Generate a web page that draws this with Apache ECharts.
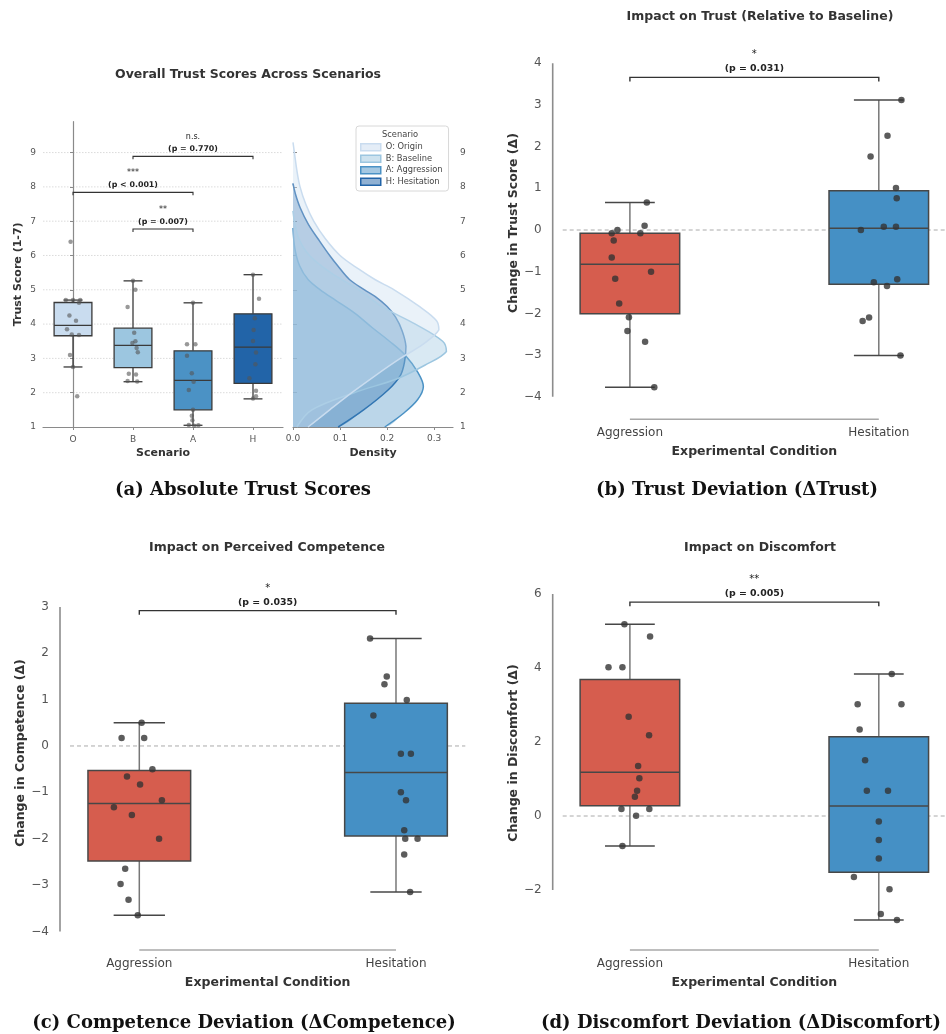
<!DOCTYPE html>
<html><head><meta charset="utf-8">
<script src="https://cdn.jsdelivr.net/npm/echarts@6/dist/echarts.min.js"></script>
<style>html,body{margin:0;padding:0;background:#fff}#c{width:946px;height:1034px}</style>
</head><body><div id="c"></div>
<script>
// ---------------- DATA ----------------
const scenarioLabels = ['O', 'B', 'A', 'H'];
const scenarioNames = ['O: Origin', 'B: Baseline', 'A: Aggression', 'H: Hesitation'];
const trustTicks = [1, 2, 3, 4, 5, 6, 7, 8, 9];
const trustGridTicks = [2, 3, 4, 5, 6, 7, 8, 9];
const densityTicks = [0.0, 0.1, 0.2, 0.3];
// box stats: [lower whisker, Q1, median, Q3, upper whisker]
const trustBoxO = [2.75, 3.66, 3.96, 4.63, 4.70];
const trustBoxB = [2.32, 2.73, 3.38, 3.88, 5.26];
const trustBoxA = [1.05, 1.50, 2.36, 3.22, 4.62];
const trustBoxH = [1.82, 2.27, 3.33, 4.30, 5.44];
const trustPtsO = [6.4, 4.7, 4.7, 4.7, 4.62, 4.25, 4.1, 3.85, 3.7, 3.68, 3.1, 2.75, 1.9];
const trustJitO = [-0.04, -0.12, 0.0, 0.12, 0.1, -0.06, 0.05, -0.1, -0.02, 0.1, -0.05, 0.0, 0.07];
const trustPtsB = [5.26, 5.0, 4.5, 3.75, 3.5, 3.45, 3.3, 3.18, 2.55, 2.53, 2.34, 2.33];
const trustJitB = [0.0, 0.04, -0.09, 0.02, 0.04, -0.01, 0.06, 0.08, -0.07, 0.05, -0.09, 0.07];
const trustPtsA = [4.62, 3.41, 3.41, 3.08, 2.57, 2.32, 2.08, 1.5, 1.33, 1.2, 1.06, 1.05, 1.04];
const trustJitA = [0.0, -0.1, 0.04, -0.1, -0.02, 0.01, -0.07, 0.0, -0.02, -0.01, -0.07, 0.09, 0.02];
const trustPtsH = [5.44, 4.74, 4.17, 3.83, 3.51, 3.17, 2.83, 2.42, 2.06, 1.9, 1.83];
const trustJitH = [0.0, 0.1, 0.03, 0.01, 0.0, 0.05, 0.04, -0.06, 0.05, 0.05, 0.0];
// density curves: [score, density]
const kdeO = [[1.0,0.032],[1.5,0.078],[2.0,0.125],[2.5,0.175],[3.0,0.228],[3.4,0.275],[3.83,0.31],[4.1,0.305],[4.5,0.27],[5.0,0.215],[5.3,0.174],[5.6,0.14],[6.0,0.1],[6.5,0.068],[7.0,0.044],[7.5,0.027],[8.0,0.015],[8.5,0.008],[9.0,0.003],[9.3,0.0]];
const kdeB = [[1.0,0.008],[1.5,0.04],[2.0,0.13],[2.4,0.22],[2.8,0.28],[3.2,0.326],[3.5,0.318],[4.0,0.26],[4.5,0.19],[5.0,0.14],[5.5,0.08],[6.0,0.035],[6.5,0.012],[7.0,0.003],[7.3,0.0]];
const kdeA = [[1.0,0.195],[1.4,0.235],[1.8,0.265],[2.18,0.277],[2.6,0.265],[3.1,0.238],[3.5,0.205],[3.9,0.168],[4.32,0.131],[4.7,0.09],[5.0,0.058],[5.3,0.032],[5.7,0.014],[6.2,0.004],[6.8,0.0]];
const kdeH = [[1.0,0.096],[1.5,0.15],[2.08,0.202],[2.5,0.228],[2.9,0.237],[3.35,0.24],[3.8,0.232],[4.2,0.218],[4.51,0.2],[4.8,0.175],[5.0,0.152],[5.3,0.12],[5.7,0.095],[6.0,0.078],[6.45,0.055],[6.9,0.033],[7.4,0.015],[7.8,0.005],[8.1,0.0]];
const sigPairsA = [[1, 3], [0, 2], [1, 2]];
const sigHeightsA = [8.89, 7.84, 6.77];
const sigStarsA = ['n.s.', '***', '**'];
const sigPA = ['(p = 0.770)', '(p < 0.001)', '(p = 0.007)'];

const conditions = ['Aggression', 'Hesitation'];
const trustDevTicks = [-4, -3, -2, -1, 0, 1, 2, 3, 4];
const trustDevBoxAgg = [-3.77, -2.01, -0.82, -0.08, 0.66];
const trustDevBoxHes = [-3.01, -1.30, 0.04, 0.94, 3.12];
const trustDevAgg = [0.66, 0.1, 0.0, -0.08, -0.08, -0.25, -0.66, -1.0, -1.17, -1.76, -2.09, -2.42, -2.68, -3.77];
const trustDevJitAgg = [0.068, 0.059, -0.05, -0.073, 0.042, -0.065, -0.073, 0.085, -0.059, -0.043, -0.004, -0.01, 0.061, 0.098];
const trustDevHes = [3.12, 2.26, 1.76, 1.01, 0.76, 0.0, 0.08, 0.08, -1.18, -1.25, -1.34, -2.10, -2.18, -3.01];
const trustDevJitHes = [0.091, 0.035, -0.033, 0.069, 0.072, -0.072, 0.02, 0.069, 0.074, -0.02, 0.033, -0.039, -0.065, 0.087];
const trustDevSig = [3.66, '*', '(p = 0.031)'];

const compDevTicks = [-4, -3, -2, -1, 0, 1, 2, 3];
const compDevBoxAgg = [-3.65, -2.48, -1.24, -0.53, 0.5];
const compDevBoxHes = [-3.15, -1.94, -0.57, 0.92, 2.32];
const compDevAgg = [0.5, 0.17, 0.17, -0.5, -0.66, -0.83, -1.17, -1.32, -1.49, -2.0, -2.65, -2.98, -3.32, -3.65];
const compDevJitAgg = [0.009, -0.069, 0.019, 0.051, -0.048, 0.003, 0.088, -0.099, -0.029, 0.077, -0.055, -0.073, -0.042, -0.006];
const compDevHes = [2.32, 1.50, 1.33, 0.99, 0.66, -0.17, -0.17, -1.0, -1.17, -1.82, -2.0, -2.0, -2.34, -3.15];
const compDevJitHes = [-0.101, -0.036, -0.045, 0.042, -0.088, 0.019, 0.058, 0.019, 0.039, 0.032, 0.036, 0.084, 0.032, 0.055];
const compDevSig = [2.92, '*', '(p = 0.035)'];

const discDevTicks = [-2, 0, 2, 4, 6];
const discDevBoxAgg = [-0.81, 0.28, 1.18, 3.69, 5.18];
const discDevBoxHes = [-2.81, -1.52, 0.27, 2.14, 3.84];
const discDevAgg = [5.18, 4.85, 4.02, 4.02, 2.68, 2.18, 1.35, 1.02, 0.68, 0.52, 0.19, 0.19, 0.01, -0.81];
const discDevJitAgg = [-0.022, 0.081, -0.086, -0.030, -0.005, 0.077, 0.033, 0.038, 0.029, 0.020, -0.034, 0.078, 0.025, -0.030];
const discDevHes = [3.84, 3.02, 3.02, 2.34, 1.51, 0.68, 0.68, -0.15, -0.65, -1.15, -1.65, -1.98, -2.65, -2.81];
const discDevJitHes = [0.052, -0.085, 0.091, -0.077, -0.055, -0.048, 0.037, 0.0, 0.0, 0.0, -0.1, 0.043, 0.008, 0.073];
const discDevSig = [5.78, '**', '(p = 0.005)'];

// ---------------- STYLE ----------------
const FONT = 'DejaVu Sans';
const SERIF = 'DejaVu Serif';
const blues = ['#c9dcef', '#9cc6e0', '#4b92c5', '#2264a8'];
const condColors = ['#d65d4e', '#4590c5'];

function rgba(hex, a) {
  const n = parseInt(hex.slice(1), 16);
  return 'rgba(' + (n >> 16) + ',' + ((n >> 8) & 255) + ',' + (n & 255) + ',' + a + ')';
}
function minus(v) { return v < 0 ? '\u2212' + Math.abs(v) : String(v); }

function boxRenderer(widthUnits, fills, edge, whisk, lw) {
  return function (params, api) {
    const x = api.value(0);
    const lo = api.coord([x, api.value(1)]), q1 = api.coord([x, api.value(2)]),
      md = api.coord([x, api.value(3)]), q3 = api.coord([x, api.value(4)]), hi = api.coord([x, api.value(5)]);
    const w = api.size([widthUnits, 0])[0];
    const cx = md[0], cw = w / 4;
    const ws = { stroke: whisk, lineWidth: lw };
    const es = { stroke: edge, lineWidth: lw };
    return { type: 'group', children: [
      { type: 'line', shape: { x1: cx, y1: q1[1], x2: cx, y2: lo[1] }, style: ws },
      { type: 'line', shape: { x1: cx, y1: q3[1], x2: cx, y2: hi[1] }, style: ws },
      { type: 'line', shape: { x1: cx - cw, y1: lo[1], x2: cx + cw, y2: lo[1] }, style: es },
      { type: 'line', shape: { x1: cx - cw, y1: hi[1], x2: cx + cw, y2: hi[1] }, style: es },
      { type: 'rect', shape: { x: cx - w / 2, y: q3[1], width: w, height: q1[1] - q3[1] }, style: { fill: fills[params.dataIndex], stroke: edge, lineWidth: lw } },
      { type: 'line', shape: { x1: cx - w / 2, y1: md[1], x2: cx + w / 2, y2: md[1] }, style: es }
    ] };
  };
}
function bracketRenderer(stars, ps, o) {
  return function (params, api) {
    const i = params.dataIndex;
    const a = api.coord([api.value(0), api.value(2)]);
    const b = api.coord([api.value(1), api.value(2)]);
    const cx = (a[0] + b[0]) / 2;
    return { type: 'group', children: [
      { type: 'polyline', shape: { points: [[a[0], a[1] + o.tick], [a[0], a[1]], [b[0], b[1]], [b[0], b[1] + o.tick]] }, style: { stroke: '#333', lineWidth: o.lw, fill: null } },
      { type: 'text', x: cx, y: a[1] + o.starDy, style: { text: stars[i], align: 'center', verticalAlign: 'middle', fontSize: o.starFs, fontFamily: FONT, fill: '#222' } },
      { type: 'text', x: cx, y: a[1] + o.pDy, style: { text: ps[i], align: 'center', verticalAlign: 'middle', fontSize: o.pFs, fontWeight: 'bold', fontFamily: FONT, fill: '#222' } }
    ] };
  };
}
function hlineRenderer(stroke, lw, dash) {
  return function (params, api) {
    const cs = params.coordSys;
    const y = api.coord([api.value(0), api.value(1)])[1];
    return { type: 'line', shape: { x1: cs.x, y1: y, x2: cs.x + cs.width, y2: y }, style: { stroke: stroke, lineWidth: lw, lineDash: dash } };
  };
}
function spineRenderer(ticks) {
  return function (params, api) {
    const cs = params.coordSys;
    const top = api.coord([0, ticks[ticks.length - 1]])[1];
    const bot = api.coord([0, ticks[0]])[1];
    const x0 = api.coord([0, 0])[0], x1 = api.coord([1, 0])[0];
    const xs = cs.x - 10, ys = cs.y + cs.height + 10;
    return { type: 'group', children: [
      { type: 'line', shape: { x1: xs, y1: top, x2: xs, y2: bot }, style: { stroke: '#8c8c8c', lineWidth: 1.6 } },
      { type: 'line', shape: { x1: x0, y1: ys, x2: x1, y2: ys }, style: { stroke: '#a8a8a8', lineWidth: 1.6 } }
    ] };
  };
}
function densityRenderer(curve, color, alpha) {
  return function (params, api) {
    if (params.dataIndex !== 0) return null;
    const pts = curve.map(p => api.coord([p[1], p[0]]));
    const b0 = api.coord([0, curve[0][0]]);
    const b1 = api.coord([0, curve[curve.length - 1][0]]);
    const poly = [b0].concat(pts).concat([b1]);
    let minX = Infinity, minY = Infinity, maxX = -Infinity, maxY = -Infinity;
    poly.forEach(p => { minX = Math.min(minX, p[0]); maxX = Math.max(maxX, p[0]); minY = Math.min(minY, p[1]); maxY = Math.max(maxY, p[1]); });
    const cons = [[minX, minY], [maxX, maxY]];
    return { type: 'group', children: [
      { type: 'polygon', shape: { points: poly, smooth: 0.35, smoothConstraint: cons }, style: { fill: rgba(color, alpha), stroke: null } },
      { type: 'polyline', shape: { points: pts, smooth: 0.35, smoothConstraint: cons }, style: { fill: null, stroke: color, lineWidth: 1.5 } }
    ] };
  };
}

// ---------------- OPTION ----------------
const devPanels = [
  { grid: 2, x: 3, y: 4 - 2, box: [trustDevBoxAgg, trustDevBoxHes], pts: [[trustDevAgg, trustDevJitAgg], [trustDevHes, trustDevJitHes]], ticks: trustDevTicks, sig: trustDevSig, name: 'Change in Trust Score (\u0394)', yMin: -4.30, yMax: 4.636 },
  { grid: 3, x: 4, y: 3, box: [compDevBoxAgg, compDevBoxHes], pts: [[compDevAgg, compDevJitAgg], [compDevHes, compDevJitHes]], ticks: compDevTicks, sig: compDevSig, name: 'Change in Competence (\u0394)', yMin: -4.186, yMax: 3.883 },
  { grid: 4, x: 5, y: 4, box: [discDevBoxAgg, discDevBoxHes], pts: [[discDevAgg, discDevJitAgg], [discDevHes, discDevJitHes]], ticks: discDevTicks, sig: discDevSig, name: 'Change in Discomfort (\u0394)', yMin: -3.351, yMax: 6.757 }
];

const grids = [
  { left: 43, top: 121.7, width: 240, height: 305.3 },
  { left: 293, top: 121.7, width: 160, height: 305.3 },
  { left: 562.7, top: 36.7, width: 393.6, height: 372.6 },
  { left: 70, top: 566, width: 395.3, height: 374 },
  { left: 562.7, top: 566, width: 393.6, height: 374 }
];

const smallLabel = { fontSize: 9, color: '#555', fontFamily: FONT };
const xAxes = [
  { type: 'category', gridIndex: 0, data: scenarioLabels, boundaryGap: true,
    axisLine: { lineStyle: { color: '#8a8a8a', width: 1.2 } },
    axisTick: { show: true, alignWithLabel: true, length: 3, lineStyle: { color: '#8a8a8a' } },
    axisLabel: Object.assign({ margin: 8 }, smallLabel),
    name: 'Scenario', nameLocation: 'middle', nameGap: 21,
    nameTextStyle: { fontSize: 11, fontWeight: 'bold', color: '#333', fontFamily: FONT } },
  { type: 'value', gridIndex: 0, min: -0.5, max: 3.5, show: false },
  { type: 'value', gridIndex: 1, min: 0, max: 0.34, splitLine: { show: false },
    axisLine: { show: true, lineStyle: { color: '#8a8a8a', width: 1.2 } },
    axisTick: { show: true, length: 3, customValues: densityTicks, lineStyle: { color: '#8a8a8a' } },
    axisLabel: Object.assign({ margin: 7, customValues: densityTicks, formatter: v => v.toFixed(1) }, smallLabel),
    name: 'Density', nameLocation: 'middle', nameGap: 21,
    nameTextStyle: { fontSize: 11, fontWeight: 'bold', color: '#333', fontFamily: FONT } }
];
const yAxes = [
  { type: 'value', gridIndex: 0, min: 1, max: 9.9, splitLine: { show: false },
    axisLine: { show: true, lineStyle: { color: '#8a8a8a', width: 1.2 } },
    axisTick: { show: true, length: 3, customValues: trustTicks, lineStyle: { color: '#8a8a8a' } },
    axisLabel: Object.assign({ margin: 7, customValues: trustTicks }, smallLabel),
    name: 'Trust Score (1-7)', nameLocation: 'middle', nameGap: 19,
    nameTextStyle: { fontSize: 11, fontWeight: 'bold', color: '#333', fontFamily: FONT } },
  { type: 'value', gridIndex: 1, position: 'right', min: 1, max: 9.9, splitLine: { show: false },
    axisLine: { show: false },
    axisTick: { show: true, length: 4, customValues: trustTicks, lineStyle: { color: '#8a8a8a' } },
    axisLabel: Object.assign({ margin: 7, customValues: trustTicks }, smallLabel) }
];
devPanels.forEach(p => {
  xAxes.push({ type: 'value', gridIndex: p.grid, min: -0.27, max: 1.27, offset: 10, splitLine: { show: false },
    axisLine: { show: false }, axisTick: { show: false },
    axisLabel: { customValues: [0, 1], formatter: v => conditions[Math.round(v)], fontSize: 12, color: '#444', margin: 8, fontFamily: FONT },
    name: 'Experimental Condition', nameLocation: 'middle', nameGap: 26,
    nameTextStyle: { fontSize: 12.5, fontWeight: 'bold', color: '#333', fontFamily: FONT } });
  yAxes.push({ type: 'value', gridIndex: p.grid, min: p.yMin, max: p.yMax, offset: 10, splitLine: { show: false },
    axisLine: { show: false }, axisTick: { show: false },
    axisLabel: { customValues: p.ticks, formatter: minus, fontSize: 12, color: '#555', margin: 11, fontFamily: FONT },
    name: p.name, nameLocation: 'middle', nameGap: 32,
    nameTextStyle: { fontSize: 12.5, fontWeight: 'bold', color: '#333', fontFamily: FONT } });
});

const series = [];
// panel (a) gridlines
series.push({ type: 'custom', xAxisIndex: 1, yAxisIndex: 0, z: 0, silent: true,
  data: trustGridTicks.map(v => [0, v]), encode: { x: 0, y: 1 },
  renderItem: hlineRenderer('#d2d2d2', 0.8, [1.5, 1.5]) });
// panel (a) boxes
series.push({ type: 'custom', xAxisIndex: 1, yAxisIndex: 0, z: 2, silent: true,
  data: [trustBoxO, trustBoxB, trustBoxA, trustBoxH].map((s, i) => [i].concat(s)),
  encode: { x: 0, y: [1, 2, 3, 4, 5] },
  renderItem: boxRenderer(0.63, blues, '#3a3a3a', '#3a3a3a', 1.3) });
// panel (a) points
const aPts = [];
[[trustPtsO, trustJitO], [trustPtsB, trustJitB], [trustPtsA, trustJitA], [trustPtsH, trustJitH]].forEach((pair, i) => {
  pair[0].forEach((v, k) => aPts.push([i + pair[1][k], v]));
});
series.push({ type: 'scatter', xAxisIndex: 1, yAxisIndex: 0, z: 3, silent: true, data: aPts,
  symbolSize: 4.5, itemStyle: { color: '#555', opacity: 0.6 } });
// panel (a) brackets
series.push({ type: 'custom', xAxisIndex: 1, yAxisIndex: 0, z: 4, silent: true, clip: false,
  data: sigPairsA.map((p, i) => [p[0], p[1], sigHeightsA[i]]), encode: { x: [0, 1], y: 2 },
  renderItem: bracketRenderer(sigStarsA, sigPA, { tick: 3, lw: 1.1, starFs: 8, pFs: 7.9, starDy: -19, pDy: -7 }) });
// density curves (drawn H, A, B, O so O lies on top)
const kdes = [kdeO, kdeB, kdeA, kdeH];
[3, 2, 1, 0].forEach(i => {
  series.push({ type: 'custom', name: scenarioNames[i], xAxisIndex: 2, yAxisIndex: 1, z: 2, silent: true, clip: false,
    itemStyle: { color: blues[i] },
    data: kdes[i].map(p => [p[1], p[0]]), encode: { x: 0, y: 1 },
    renderItem: densityRenderer(kdes[i], blues[i], 0.38) });
});
// deviation panels
devPanels.forEach(p => {
  series.push({ type: 'custom', xAxisIndex: p.x, yAxisIndex: p.grid, z: 1, silent: true, clip: false,
    data: [[0, 0]], encode: { x: 0, y: 1 }, renderItem: hlineRenderer('#aaaaaa', 1, [4, 3]) });
  series.push({ type: 'custom', xAxisIndex: p.x, yAxisIndex: p.grid, z: 1, silent: true, clip: false,
    data: [[0, 0]], encode: { x: 0, y: 1 }, renderItem: spineRenderer(p.ticks) });
  series.push({ type: 'custom', xAxisIndex: p.x, yAxisIndex: p.grid, z: 2, silent: true, clip: false,
    data: p.box.map((s, i) => [i].concat(s)), encode: { x: 0, y: [1, 2, 3, 4, 5] },
    renderItem: boxRenderer(0.4, condColors, '#474747', '#777777', 1.5) });
  const pts = [];
  p.pts.forEach((pair, i) => pair[0].forEach((v, k) => pts.push([i + pair[1][k], v])));
  series.push({ type: 'scatter', xAxisIndex: p.x, yAxisIndex: p.grid, z: 3, silent: true, clip: false, data: pts,
    symbolSize: 6.5, itemStyle: { color: '#333', opacity: 0.8 } });
  series.push({ type: 'custom', xAxisIndex: p.x, yAxisIndex: p.grid, z: 4, silent: true, clip: false,
    data: [[0, 1, p.sig[0]]], encode: { x: [0, 1], y: 2 },
    renderItem: bracketRenderer([p.sig[1]], [p.sig[2]], { tick: 4, lw: 1.4, starFs: 10, pFs: 9.4, starDy: -22.5, pDy: -8.5 }) });
});
// fix yAxis index for first dev panel (grid 2 -> yAxis 2)
devPanels[0].y = 2;

function txt(t, x, y, fs, weight, family, color) {
  return { type: 'text', x: x, y: y, z: 100, silent: true,
    style: { text: t, align: 'center', verticalAlign: 'middle', fontSize: fs, fontWeight: weight, fontFamily: family, fill: color } };
}

const option = {
  animation: false,
  backgroundColor: '#ffffff',
  textStyle: { fontFamily: FONT },
  grid: grids,
  xAxis: xAxes,
  yAxis: yAxes,
  legend: {
    orient: 'vertical', left: 356, top: 126, padding: [17, 6, 5, 4],
    itemWidth: 20, itemHeight: 7, itemGap: 3,
    backgroundColor: 'rgba(255,255,255,0.85)', borderColor: '#d8d8d8', borderWidth: 1, borderRadius: 3,
    textStyle: { fontSize: 8.3, color: '#444', fontFamily: FONT },
    selectedMode: false, z: 20,
    data: scenarioNames.map((n, i) => ({ name: n, icon: 'rect',
      itemStyle: { color: rgba(blues[i], 0.5), borderColor: blues[i], borderWidth: 1.5 } }))
  },
  graphic: [
    txt('Overall Trust Scores Across Scenarios', 248, 75, 12.5, 'bold', FONT, '#333'),
    txt('Impact on Trust (Relative to Baseline)', 760, 17, 12.5, 'bold', FONT, '#333'),
    txt('Impact on Perceived Competence', 267, 548, 12.5, 'bold', FONT, '#333'),
    txt('Impact on Discomfort', 760, 548, 12.5, 'bold', FONT, '#333'),
    txt('Scenario', 400, 134.5, 8.3, 'normal', FONT, '#444'),
    txt('(a) Absolute Trust Scores', 243, 490, 18, 'bold', SERIF, '#111'),
    txt('(b) Trust Deviation (\u0394Trust)', 737, 490, 18, 'bold', SERIF, '#111'),
    txt('(c) Competence Deviation (\u0394Competence)', 244, 1023, 18, 'bold', SERIF, '#111'),
    txt('(d) Discomfort Deviation (\u0394Discomfort)', 741, 1023, 18, 'bold', SERIF, '#111')
  ],
  series: series
};

const chart = echarts.init(document.getElementById('c'), null, { renderer: 'canvas' });
chart.setOption(option);
</script></body></html>
